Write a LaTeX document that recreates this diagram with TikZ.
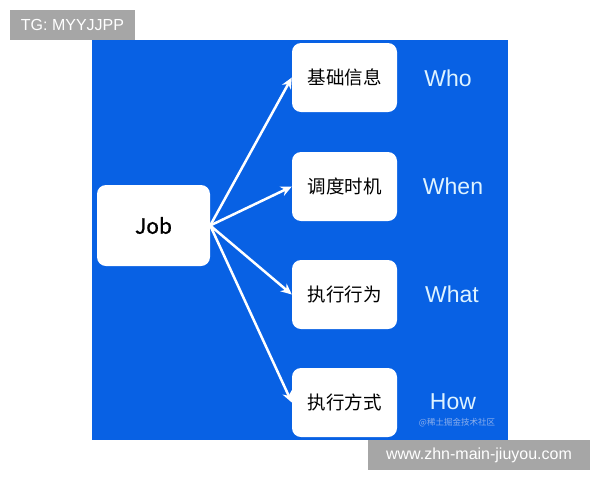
\documentclass[tikz,border=0pt]{standalone}
\usepackage{fontspec}
\setmainfont{Liberation Sans}
\newfontfamily\cjk{Noto Sans CJK SC}
\newfontfamily\cjkmid[FakeBold=0.9]{Noto Sans CJK SC}
\usetikzlibrary{arrows.meta}
\definecolor{bgblue}{RGB}{8,97,228}
\definecolor{taggray}{RGB}{166,166,166}
\definecolor{wordblue}{RGB}{222,243,255}
\definecolor{markblue}{RGB}{140,175,235}
\begin{document}
\begin{tikzpicture}[x=1pt,y=-1pt,line join=round,line cap=round,>={Stealth[length=11pt,width=10pt]}]
	\tikzset{box/.style={fill=white,rounded corners=9pt,minimum width=105pt,minimum height=69pt,inner sep=0pt,font=\cjk\fontsize{18.5}{18.5}\selectfont},
		word/.style={text=wordblue,font=\fontsize{23}{23}\selectfont},
		tag/.style={fill=taggray,text=white,inner sep=0pt,font=\fontsize{16}{16}\selectfont},
		link/.style={->,white,line width=2.5pt}}
	\useasboundingbox (0,0) rectangle (600,480);
	\fill[bgblue] (92,40) rectangle (508,440);
	\node[tag,minimum width=125pt,minimum height=30pt] (tg) at (72.5,25) {TG: MYYJJPP};
	\node[tag,minimum width=222pt,minimum height=30pt] (site) at (479,455) {www.zhn-main-jiuyou.com};
	\node[box,minimum width=113pt,minimum height=81pt,font=\cjkmid\fontsize{21}{21}\selectfont] (job) at (153.5,225.5) {Job};
	\node[box] (info) at (344.5,77.5) {基础信息};
	\node[box] (sched) at (344.5,186.5) {调度时机};
	\node[box] (act) at (344.5,294.5) {执行行为};
	\node[box] (mode) at (344.5,402.5) {执行方式};
	\node[word] (who) at (448,78) {Who};
	\node[word] (when) at (453,186) {When};
	\node[word] (what) at (452,294) {What};
	\node[word] (how) at (453,402) {How};
	\node[text=markblue,font=\cjk\fontsize{8.5}{8.5}\selectfont] (mark) at (457,423) {@稀土掘金技术社区};
	\foreach \t in {info,sched,act,mode}
		\draw[link] (job.east) -- (\t.west);
\end{tikzpicture}
\end{document}
